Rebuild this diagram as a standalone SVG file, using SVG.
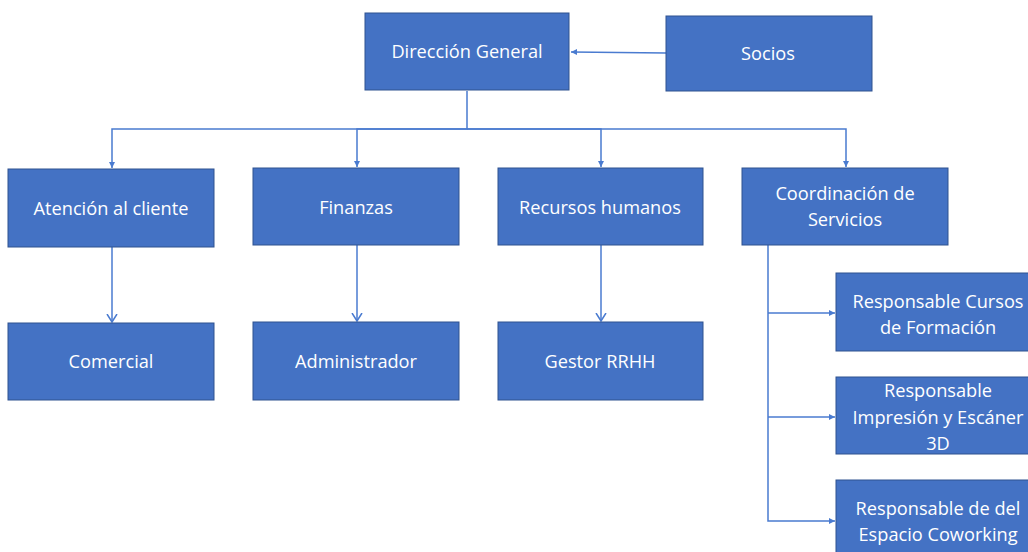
<svg xmlns="http://www.w3.org/2000/svg" width="1028" height="552" viewBox="0 0 1028 552">
<style>
.box{fill:#4472C4;stroke:#2F528F;stroke-width:1}
.t{fill:#fff;font-family:"Open Sans","Liberation Sans",sans-serif;font-size:18.2px;text-anchor:middle;dominant-baseline:central}
.c{fill:none;stroke:#4A7BD0;stroke-width:1.5}
</style>
<defs>
<marker id="tri" markerWidth="8" markerHeight="8" refX="6" refY="4" orient="auto" markerUnits="userSpaceOnUse">
<path d="M0,1 L6,4 L0,7 Z" fill="#4A7BD0"/>
</marker>
<marker id="vee" markerWidth="14" markerHeight="14" refX="8" refY="6" orient="auto" markerUnits="userSpaceOnUse">
<path d="M0,1 L8,6 L0,11" fill="none" stroke="#4A7BD0" stroke-width="1.5"/>
</marker>
</defs>
<g id="connectors">
<path class="c" d="M666,53 L571,52" marker-end="url(#tri)"/>
<path class="c" d="M467,91 V129 H112 V168" marker-end="url(#tri)"/>
<path class="c" d="M467,129 H357 V167" marker-end="url(#tri)"/>
<path class="c" d="M467,129 H601 V167" marker-end="url(#tri)"/>
<path class="c" d="M467,129 H846 V167" marker-end="url(#tri)"/>
<path class="c" d="M112,247 V322" marker-end="url(#vee)"/>
<path class="c" d="M357,245 V321" marker-end="url(#vee)"/>
<path class="c" d="M601,245 V321" marker-end="url(#vee)"/>
<path class="c" d="M768,245 V521 H835" marker-end="url(#tri)"/>
<path class="c" d="M768,313 H835" marker-end="url(#tri)"/>
<path class="c" d="M768,417 H835" marker-end="url(#tri)"/>
</g>
<g id="direccion"><rect class="box" x="365" y="13" width="204" height="77"/><text class="t" x="467" y="51">Dirección General</text></g>
<g id="socios"><rect class="box" x="666" y="16" width="206" height="75"/><text class="t" x="768" y="53">Socios</text></g>
<g id="atencion"><rect class="box" x="8" y="169" width="206" height="78"/><text class="t" x="111" y="208">Atención al cliente</text></g>
<g id="finanzas"><rect class="box" x="253" y="168" width="206" height="77"/><text class="t" x="356" y="207">Finanzas</text></g>
<g id="rrhh"><rect class="box" x="498" y="168" width="205" height="77"/><text class="t" x="600" y="207">Recursos humanos</text></g>
<g id="coordinacion"><rect class="box" x="742" y="168" width="206" height="77"/><text class="t" x="845" y="193">Coordinación de</text><text class="t" x="845" y="219">Servicios</text></g>
<g id="comercial"><rect class="box" x="8" y="323" width="206" height="77"/><text class="t" x="111" y="361">Comercial</text></g>
<g id="administrador"><rect class="box" x="253" y="322" width="206" height="78"/><text class="t" x="356" y="361">Administrador</text></g>
<g id="gestor"><rect class="box" x="498" y="322" width="205" height="78"/><text class="t" x="600" y="361">Gestor RRHH</text></g>
<g id="cursos"><rect class="box" x="836" y="273" width="206" height="78"/><text class="t" x="938" y="301">Responsable Cursos</text><text class="t" x="938" y="327">de Formación</text></g>
<g id="impresion"><rect class="box" x="836" y="377" width="206" height="77"/><text class="t" x="938" y="390">Responsable</text><text class="t" x="938" y="417">Impresión y Escáner</text><text class="t" x="938" y="443">3D</text></g>
<g id="coworking"><rect class="box" x="836" y="480" width="206" height="80"/><text class="t" x="938" y="508">Responsable de del</text><text class="t" x="938" y="534">Espacio Coworking</text></g>
</svg>
